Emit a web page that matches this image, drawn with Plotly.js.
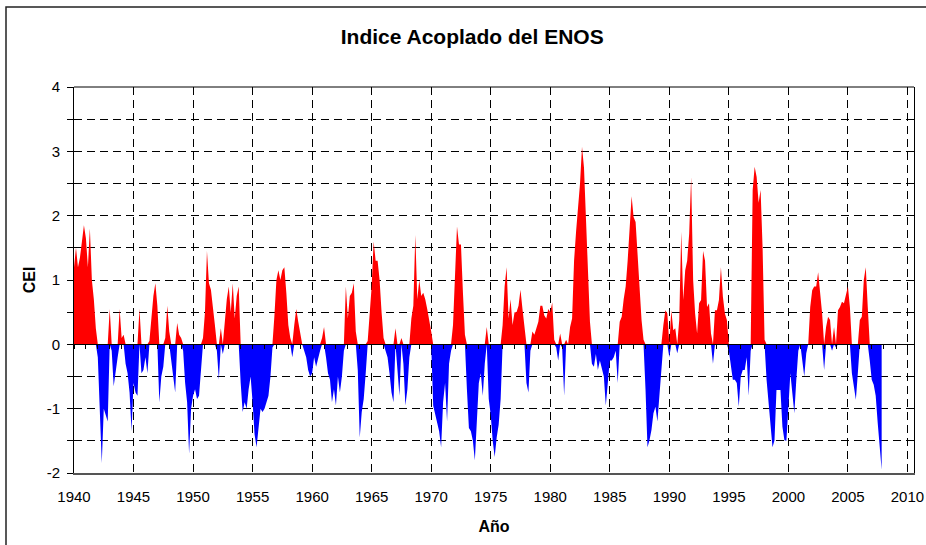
<!DOCTYPE html>
<html>
<head>
<meta charset="utf-8">
<script src="https://cdn.plot.ly/plotly-3.0.1.min.js"></script>
<style>
html,body{margin:0;padding:0;background:#fff;}
#chart{width:926px;height:545px;}
</style>
</head>
<body>
<div id="chart"></div>
<script>
// Coupled ENSO Index (CEI), 6 readings per year
const startYear = 1940;
const readingsPerYear = 6;

const cei1940s = [
  1.2, 1.5, 1.2, 1.35, 1.6, 1.85,
  1.65, 1.2, 1.8, 1.0, 0.7, 0.25,
  -0.2, -0.9, -1.85, -1.0, -1.1, -1.2,
  0.55, -0.1, -0.65, -0.4, -0.2, 0.55,
  0.1, 0.15, -0.3, -0.45, -0.75, -1.35,
  -0.6, -0.75, -0.8, 0.55, -0.45, -0.4,
  -0.2, -0.45, 0.05, 0.45, 0.75, 0.95,
  0.6, -0.9, -0.5, -0.35, 0.1, 0.6,
  0.2, -0.25, -0.55, -0.75, 0.33, 0.15,
  0.1, -0.1, -0.6, -0.9, -1.7, -1.0
];
const cei1950s = [
  -0.8, -0.7, -0.85, -0.8, -0.4, 0.1,
  0.5, 1.45, 0.95, 0.85, 0.6, 0.3,
  -0.1, -0.55, 0.25, -0.15, 0.35, 0.7,
  0.9, 0.5, 0.95, 0.4, 0.75, 0.9,
  -0.6, -1.05, -0.9, -1.0, -0.7, -0.5,
  -0.9, -1.4, -1.6, -1.3, -1.0, -1.05,
  -1.0, -0.9, -0.8, -0.5, -0.05, 0.45,
  1.0, 1.15, 1.0, 1.15, 1.2, 0.8,
  0.3, 0.1, -0.2, 0.3, 0.55, 0.35,
  0.15, 0.0, -0.1, -0.2, -0.4, -0.5
];
const cei1960s = [
  -0.45, -0.2, -0.35, -0.2, -0.1, 0.1,
  0.27, -0.2, -0.45, -0.55, -0.9, -0.7,
  -0.95, -0.5, -0.75, -0.5, -0.1, 0.9,
  0.4, 0.75, 0.8, 0.95, 0.2, -0.4,
  -1.45, -1.05, -0.85, -0.45, 0.05, 0.5,
  0.9, 1.6, 1.3, 1.3, 1.0, 0.5,
  0.1, -0.1, -0.2, -0.45, -0.75, -0.9,
  0.25, -0.4, -0.8, 0.1, -0.3, -0.95,
  -0.7, -0.2, 0.4, 0.6, 1.7, 0.7,
  1.0, 0.75, 0.8, 0.7, 0.55, 0.4
];
const cei1970s = [
  0.2, -0.95, -1.1, -1.2, -1.35, -1.6,
  -0.9, -0.6, -1.2, -0.3, -0.1, 0.3,
  1.0, 1.83, 1.55, 1.55, 0.8, 0.15,
  -0.7, -1.3, -1.35, -1.5, -1.8, -1.1,
  -0.6, -0.45, -0.8, -0.3, 0.27, -0.85,
  -1.1, -1.5, -1.75, -1.45, -1.25, -0.85,
  0.3, 0.9, 1.2, 0.4, 0.7, 0.3,
  0.5, 0.5, 0.6, 0.85, 0.55, 0.25,
  -0.6, -0.75, -0.1, 0.2, 0.15, 0.25,
  0.35, 0.6, 0.6, 0.45, 0.4, 0.55
];
const cei1980s = [
  0.5, 0.65, 0.07, -0.05, -0.25, 0.17,
  -0.05, -0.8, 0.07, 0.0, 0.27, 0.4,
  1.3, 1.75, 2.1, 2.5, 3.07, 2.75,
  1.95, 1.2, 0.35, -0.3, -0.35, -0.15,
  -0.4, -0.25, -0.4, -0.5, -0.95, -0.55,
  -0.25, -0.25, -0.2, -0.1, -0.6, 0.35,
  0.43, 0.7, 0.9, 1.3, 1.78, 2.3,
  1.98, 1.9, 1.4, 0.85, 0.38, 0.07,
  -0.7, -1.6, -1.49, -1.33, -1.07, -0.97,
  -1.2, -0.8, -0.45, 0.3, 0.53, 0.48
];
const cei1990s = [
  -0.2, 0.53, 0.22, 0.25, -0.14, 0.38,
  1.75, 0.69, 1.15, 1.3, 1.72, 2.6,
  1.0, 0.48, 0.17, 0.64, 0.69, 1.45,
  1.3, 0.58, 0.64, 0.17, -0.3, 0.53,
  0.53, 0.69, 1.2, 0.74, 0.48, 0.38,
  -0.1, -0.35, -0.55, -0.55, -0.6, -0.97,
  -0.5, -0.4, -0.4, -0.2, -0.8, -0.1,
  2.4, 2.76, 2.6, 2.2, 2.4, 1.5,
  0.07, -0.55, -0.92, -1.17, -1.6, -1.49,
  -0.71, -0.71, -0.71, -1.28, -1.49, -1.5
];
const cei2000s = [
  -0.9, -0.45, -0.76, -1.07, -0.55, -0.1,
  0.0, -0.25, -0.5, -0.14, 0.0, 0.58,
  0.84, 0.9, 0.9, 1.12, 0.8, 0.48,
  -0.4, 0.27, 0.43, 0.38, -0.1, 0.27,
  -0.05, 0.53, 0.58, 0.66, 0.64, 0.77,
  0.9, 0.58, -0.45, -0.66, -0.86, -0.45,
  0.38, 0.43, 1.0, 1.2, 0.58, -0.25,
  -0.55, -0.63, -0.8, -1.22, -1.62, -1.95
];

const xTickYears = [1940, 1945, 1950, 1955, 1960, 1965, 1970, 1975, 1980, 1985, 1990, 1995, 2000, 2005, 2010];
const yTickValues = [-2, -1, 0, 1, 2, 3, 4];

const titleText = 'Indice Acoplado del ENOS';
const xTitle = 'Año';
const yTitle = 'CEI';

const cei = [].concat(cei1940s, cei1950s, cei1960s, cei1970s, cei1980s, cei1990s, cei2000s);
const time = cei.map((v, i) => startYear + i / readingsPerYear);
const positive = cei.map(v => (v > 0 ? v : 0));
const negative = cei.map(v => (v < 0 ? v : 0));

const FONT = 'Arial, "Liberation Sans", sans-serif';
const GRID = {gridcolor: '#000', gridwidth: 1, griddash: '8px,5px'};
const XRANGE = [1940, 2010.55];

const traces = [
  {
    x: time, y: positive, type: 'scatter', mode: 'lines',
    fill: 'tozeroy', fillcolor: '#ff0000',
    line: {width: 0, color: '#ff0000'}, hoverinfo: 'skip',
    xaxis: 'x', yaxis: 'y'
  },
  {
    x: time, y: negative, type: 'scatter', mode: 'lines',
    fill: 'tozeroy', fillcolor: '#0000ff',
    line: {width: 0, color: '#0000ff'}, hoverinfo: 'skip',
    xaxis: 'x2', yaxis: 'y'
  }
];

const layout = {
  width: 926, height: 545,
  margin: {l: 74, r: 12, t: 87, b: 72, pad: 0},
  paper_bgcolor: '#fff', plot_bgcolor: '#fff',
  showlegend: false,
  font: {family: FONT, color: '#000', size: 15},
  title: {
    text: '<b>' + titleText + '</b>',
    font: {family: FONT, size: 21, color: '#000'},
    xref: 'container', x: 0.51, xanchor: 'center',
    yref: 'container', y: 1 - 37 / 545, yanchor: 'middle'
  },
  xaxis: Object.assign({
    range: XRANGE, tickmode: 'array', tickvals: xTickYears,
    ticktext: xTickYears.map(String),
    ticks: '', showgrid: true, zeroline: false,
    showline: true, linecolor: '#555', linewidth: 2,
    tickfont: {family: FONT, size: 15, color: '#000'},
    ticklabelstandoff: 9,
    title: {text: '<b>' + xTitle + '</b>', font: {family: FONT, size: 16, color: '#000'}, standoff: 17}
  }, GRID),
  xaxis2: {
    overlaying: 'x', anchor: 'free', position: 1 / 3, side: 'bottom',
    range: XRANGE, tickmode: 'linear', tick0: 1940, dtick: 1,
    ticks: 'outside', ticklen: 4, tickwidth: 1, tickcolor: '#000',
    showticklabels: false, showgrid: false, zeroline: false,
    showline: true, linecolor: '#000', linewidth: 1
  },
  yaxis: Object.assign({
    range: [-2, 4], tickmode: 'array', tickvals: yTickValues,
    ticktext: yTickValues.map(String),
    ticks: 'outside', ticklen: 6, tickwidth: 1, tickcolor: '#000',
    showgrid: true, zeroline: false,
    showline: true, linecolor: '#000', linewidth: 1, mirror: true,
    tickfont: {family: FONT, size: 15, color: '#000'},
    ticklabelstandoff: 4,
    minor: {tickmode: 'linear', tick0: 0, dtick: 0.5, ticks: 'outside', ticklen: 6, tickwidth: 1, tickcolor: '#000',
            showgrid: true, gridcolor: '#000', gridwidth: 1, griddash: '8px,5px'},
    title: {text: '<b>' + yTitle + '</b>', font: {family: FONT, size: 16, color: '#000'}, standoff: 7}
  }, GRID),
  shapes: [
    {type: 'line', xref: 'paper', yref: 'paper', x0: 0, x1: 1, y0: 1, y1: 1,
     line: {color: '#000', width: 1}, layer: 'above'},
    {type: 'rect', xref: 'paper', yref: 'paper',
     x0: (6 - 74) / 840, x1: (940 - 74) / 840, y0: -0.3, y1: (473 - 7) / 386,
     line: {color: '#222', width: 1.5}, fillcolor: 'rgba(0,0,0,0)', layer: 'above'}
  ]
};

Plotly.newPlot('chart', traces, layout, {displayModeBar: false, staticPlot: true});
</script>
</body>
</html>
